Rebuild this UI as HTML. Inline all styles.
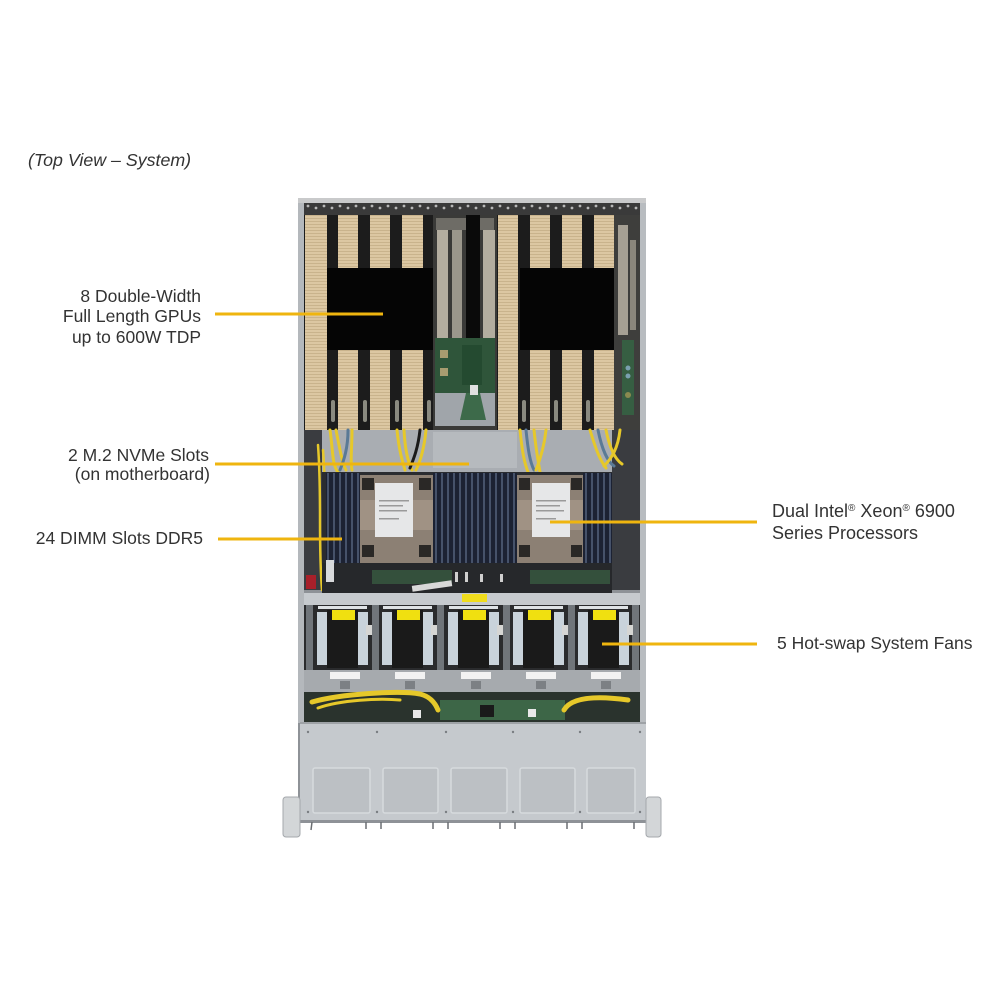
<!DOCTYPE html>
<html><head><meta charset="utf-8"><style>
html,body{margin:0;padding:0;background:#fff;}
svg{display:block;}
text{font-family:"Liberation Sans",Arial,sans-serif;fill:#333;font-size:17.5px;}
</style></head><body>
<svg width="1000" height="1000" viewBox="0 0 1000 1000" xmlns="http://www.w3.org/2000/svg">
<defs>
<pattern id="fin" width="4" height="3" patternUnits="userSpaceOnUse">
<rect width="4" height="3" fill="#dcc7a2"/><rect y="2" width="4" height="1" fill="#c9b38c"/>
</pattern>
<pattern id="dimm" width="6" height="10" patternUnits="userSpaceOnUse">
<rect width="6" height="10" fill="#1c2233"/><rect x="3" width="2" height="10" fill="#46526a"/>
</pattern>
</defs>

<!-- labels -->
<text x="28" y="166" font-style="italic" style="font-size:17.8px">(Top View – System)</text>
<text x="201" y="302" text-anchor="end">8 Double-Width</text>
<text x="201" y="322" text-anchor="end">Full Length GPUs</text>
<text x="201" y="343" text-anchor="end">up to 600W TDP</text>
<text x="209" y="461" text-anchor="end">2 M.2 NVMe Slots</text>
<text x="210" y="480" text-anchor="end">(on motherboard)</text>
<text x="203" y="544" text-anchor="end">24 DIMM Slots DDR5</text>
<text x="772" y="517" style="font-size:18px">Dual Intel<tspan dy="-6" style="font-size:10px">®</tspan><tspan dy="6"> Xeon</tspan><tspan dy="-6" style="font-size:10px">®</tspan><tspan dy="6"> 6900</tspan></text>
<text x="772" y="539" style="font-size:18px">Series Processors</text>
<text x="777" y="649">5 Hot-swap System Fans</text>

<!-- chassis body -->
<rect x="298" y="198" width="348" height="625" fill="#8e9297"/>
<rect x="298" y="198" width="348" height="5" fill="#c9cacb"/>
<rect x="304" y="203" width="336" height="230" fill="#1c1c1c"/>
<rect x="298" y="203" width="6" height="520" fill="#b4b8bc"/>
<rect x="640" y="203" width="6" height="520" fill="#b8bcc0"/>
<!-- top connector row -->
<rect x="304" y="203" width="336" height="12" fill="#3a3a3a"/>
<g fill="#b8b8b8">
<circle cx="308" cy="206" r="1.4"/><circle cx="316" cy="208" r="1.4"/><circle cx="324" cy="206" r="1.4"/><circle cx="332" cy="208" r="1.4"/><circle cx="340" cy="206" r="1.4"/><circle cx="348" cy="208" r="1.4"/><circle cx="356" cy="206" r="1.4"/><circle cx="364" cy="208" r="1.4"/><circle cx="372" cy="206" r="1.4"/><circle cx="380" cy="208" r="1.4"/><circle cx="388" cy="206" r="1.4"/><circle cx="396" cy="208" r="1.4"/><circle cx="404" cy="206" r="1.4"/><circle cx="412" cy="208" r="1.4"/><circle cx="420" cy="206" r="1.4"/><circle cx="428" cy="208" r="1.4"/><circle cx="436" cy="206" r="1.4"/><circle cx="444" cy="208" r="1.4"/><circle cx="452" cy="206" r="1.4"/><circle cx="460" cy="208" r="1.4"/><circle cx="468" cy="206" r="1.4"/><circle cx="476" cy="208" r="1.4"/><circle cx="484" cy="206" r="1.4"/><circle cx="492" cy="208" r="1.4"/><circle cx="500" cy="206" r="1.4"/><circle cx="508" cy="208" r="1.4"/><circle cx="516" cy="206" r="1.4"/><circle cx="524" cy="208" r="1.4"/><circle cx="532" cy="206" r="1.4"/><circle cx="540" cy="208" r="1.4"/><circle cx="548" cy="206" r="1.4"/><circle cx="556" cy="208" r="1.4"/><circle cx="564" cy="206" r="1.4"/><circle cx="572" cy="208" r="1.4"/><circle cx="580" cy="206" r="1.4"/><circle cx="588" cy="208" r="1.4"/><circle cx="596" cy="206" r="1.4"/><circle cx="604" cy="208" r="1.4"/><circle cx="612" cy="206" r="1.4"/><circle cx="620" cy="208" r="1.4"/><circle cx="628" cy="206" r="1.4"/><circle cx="636" cy="208" r="1.4"/>
</g>

<!-- GPUs left group -->
<rect x="305" y="215" width="22" height="215" fill="url(#fin)"/>
<rect x="338" y="215" width="20" height="53" fill="url(#fin)"/>
<rect x="370" y="215" width="20" height="53" fill="url(#fin)"/>
<rect x="402" y="215" width="21" height="53" fill="url(#fin)"/>
<rect x="338" y="350" width="20" height="80" fill="url(#fin)"/>
<rect x="370" y="350" width="20" height="80" fill="url(#fin)"/>
<rect x="402" y="350" width="21" height="80" fill="url(#fin)"/>
<rect x="327" y="268" width="106" height="82" fill="#050505"/>
<!-- GPUs right group -->
<rect x="498" y="215" width="20" height="215" fill="url(#fin)"/>
<rect x="530" y="215" width="20" height="53" fill="url(#fin)"/>
<rect x="562" y="215" width="20" height="53" fill="url(#fin)"/>
<rect x="594" y="215" width="20" height="53" fill="url(#fin)"/>
<rect x="530" y="350" width="20" height="80" fill="url(#fin)"/>
<rect x="562" y="350" width="20" height="80" fill="url(#fin)"/>
<rect x="594" y="350" width="20" height="80" fill="url(#fin)"/>
<rect x="520" y="268" width="113" height="82" fill="#050505"/>
<!-- small logos -->
<g fill="#8a8a80">
<rect x="331" y="400" width="4" height="22" rx="2"/><rect x="363" y="400" width="4" height="22" rx="2"/><rect x="395" y="400" width="4" height="22" rx="2"/><rect x="427" y="400" width="4" height="22" rx="2"/>
<rect x="522" y="400" width="4" height="22" rx="2"/><rect x="554" y="400" width="4" height="22" rx="2"/><rect x="586" y="400" width="4" height="22" rx="2"/><rect x="618" y="400" width="4" height="22" rx="2"/>
</g>

<!-- center risers -->
<rect x="433" y="215" width="64" height="215" fill="#3a3a38"/>
<rect x="436" y="218" width="58" height="12" fill="#6e6c66"/>
<rect x="437" y="230" width="11" height="108" fill="#b3ad9f"/>
<rect x="452" y="230" width="10" height="108" fill="#9b978c"/>
<rect x="466" y="215" width="14" height="145" fill="#0a0a0a"/>
<rect x="483" y="230" width="12" height="108" fill="#b3ad9f"/>
<rect x="435" y="338" width="60" height="55" fill="#2f553a"/>
<rect x="440" y="350" width="8" height="8" fill="#a89c70"/>
<rect x="440" y="368" width="8" height="8" fill="#a89c70"/>
<rect x="462" y="345" width="20" height="40" fill="#244a30"/>
<rect x="435" y="393" width="60" height="33" fill="#a0a5aa"/>
<polygon points="466,393 480,393 486,420 460,420" fill="#3d6a4a"/>
<rect x="470" y="385" width="8" height="10" fill="#e0e0e0"/>
<!-- right riser -->
<rect x="614" y="215" width="26" height="215" fill="#3e3e3c"/>
<rect x="618" y="225" width="10" height="110" fill="#a6a094"/>
<rect x="630" y="240" width="6" height="90" fill="#8a867c"/>
<rect x="622" y="340" width="12" height="75" fill="#365e42"/>
<circle cx="628" cy="368" r="2.5" fill="#7aa0b0"/><circle cx="628" cy="376" r="2.5" fill="#7aa0b0"/><circle cx="628" cy="395" r="3" fill="#8a8a50"/>

<!-- shroud area below GPUs -->
<rect x="304" y="430" width="336" height="44" fill="#a9adb2"/>
<rect x="304" y="430" width="18" height="160" fill="#3a3c40"/>
<rect x="612" y="430" width="28" height="160" fill="#3a3c40"/>
<rect x="433" y="432" width="84" height="36" fill="#b6babe"/>
<!-- cable bundles -->
<g fill="none" stroke-linecap="round">
<path d="M330,430 C333,450 332,465 338,472" stroke="#e6c82a" stroke-width="3"/>
<path d="M336,430 C340,450 342,462 346,470" stroke="#e6c82a" stroke-width="3"/>
<path d="M348,430 C348,448 344,460 340,470" stroke="#5a7a96" stroke-width="3"/>
<path d="M352,430 C352,450 350,460 352,470" stroke="#e6c82a" stroke-width="3"/>
<path d="M397,430 C399,450 402,460 405,470" stroke="#e6c82a" stroke-width="3"/>
<path d="M404,430 C405,450 408,462 412,470" stroke="#e6c82a" stroke-width="3"/>
<path d="M420,430 C418,448 414,458 410,468" stroke="#1a1a1a" stroke-width="3"/>
<path d="M426,430 C424,450 420,462 416,470" stroke="#e6c82a" stroke-width="3"/>
<path d="M520,430 C522,450 524,462 528,472" stroke="#e6c82a" stroke-width="3"/>
<path d="M526,430 C528,450 530,462 534,470" stroke="#5a7a96" stroke-width="3"/>
<path d="M534,430 C536,450 538,460 540,472" stroke="#e6c82a" stroke-width="3"/>
<path d="M546,430 C544,448 540,460 536,470" stroke="#e6c82a" stroke-width="3"/>
<path d="M590,430 C596,450 600,460 606,468" stroke="#e6c82a" stroke-width="3"/>
<path d="M598,430 C602,450 608,462 614,466" stroke="#5a7a96" stroke-width="3"/>
<path d="M606,430 C610,450 616,460 622,464" stroke="#e6c82a" stroke-width="3"/>
<path d="M620,430 C618,448 612,458 604,466" stroke="#e6c82a" stroke-width="3"/>
<path d="M318,445 C322,500 318,540 322,590" stroke="#e6c82a" stroke-width="2.5"/>
<path d="M323,450 C327,500 324,545 328,590" stroke="#e6c82a" stroke-width="2.5"/>
</g>

<!-- motherboard -->
<rect x="322" y="472" width="290" height="120" fill="#2a2c30"/>
<rect x="326" y="473" width="34" height="92" fill="url(#dimm)"/>
<rect x="433" y="473" width="84" height="92" fill="url(#dimm)"/>
<rect x="583" y="473" width="29" height="92" fill="url(#dimm)"/>
<!-- heatsinks -->
<rect x="360" y="475" width="73" height="88" fill="#8c8074"/>
<rect x="360" y="500" width="73" height="30" fill="#a09284"/>
<rect x="362" y="478" width="12" height="12" fill="#2a2826"/><rect x="419" y="478" width="12" height="12" fill="#2a2826"/>
<rect x="362" y="545" width="12" height="12" fill="#2a2826"/><rect x="419" y="545" width="12" height="12" fill="#2a2826"/>
<rect x="375" y="483" width="38" height="54" fill="#e6e7e8"/>
<g fill="#9a9a9a"><rect x="379" y="500" width="30" height="1.5"/><rect x="379" y="505" width="24" height="1.5"/><rect x="379" y="510" width="28" height="1.5"/><rect x="379" y="518" width="20" height="1.5"/></g>
<rect x="517" y="475" width="66" height="88" fill="#8c8074"/>
<rect x="517" y="500" width="66" height="30" fill="#a09284"/>
<rect x="519" y="478" width="11" height="12" fill="#2a2826"/><rect x="571" y="478" width="11" height="12" fill="#2a2826"/>
<rect x="519" y="545" width="11" height="12" fill="#2a2826"/><rect x="571" y="545" width="11" height="12" fill="#2a2826"/>
<rect x="532" y="483" width="38" height="54" fill="#e6e7e8"/>
<g fill="#9a9a9a"><rect x="536" y="500" width="30" height="1.5"/><rect x="536" y="505" width="24" height="1.5"/><rect x="536" y="510" width="28" height="1.5"/><rect x="536" y="518" width="20" height="1.5"/></g>
<!-- board bottom strip -->
<rect x="322" y="563" width="290" height="30" fill="#26282b"/>
<rect x="372" y="570" width="80" height="14" fill="#34503c"/>
<rect x="530" y="570" width="80" height="14" fill="#34503c"/>
<rect x="412" y="583" width="40" height="6" fill="#d8d8d8" transform="rotate(-8 432 586)"/>
<g fill="#cfcfcf"><rect x="455" y="572" width="3" height="10"/><rect x="465" y="572" width="3" height="10"/><rect x="480" y="574" width="3" height="8"/><rect x="500" y="574" width="3" height="8"/></g>
<rect x="306" y="575" width="10" height="14" fill="#a8202a"/>
<rect x="326" y="560" width="8" height="22" fill="#d8dadc"/>

<!-- fan bay -->
<rect x="304" y="593" width="336" height="12" fill="#c6cace"/>
<rect x="462" y="594" width="25" height="8" fill="#f0dc1c"/>
<rect x="304" y="605" width="336" height="65" fill="#2a2b2d"/>
<g>
<rect x="317" y="612" width="10" height="53" fill="#c9d3db"/><rect x="358" y="612" width="10" height="53" fill="#c9d3db"/>
<rect x="327" y="610" width="31" height="58" fill="#1a1a1a"/><rect x="318" y="606" width="49" height="3" fill="#dfe3e6"/>
<rect x="332" y="610" width="23" height="10" fill="#f0e010"/>
<rect x="372" y="605" width="7" height="65" fill="#70757a"/>
<rect x="382" y="612" width="10" height="53" fill="#c9d3db"/><rect x="423" y="612" width="10" height="53" fill="#c9d3db"/>
<rect x="392" y="610" width="31" height="58" fill="#1a1a1a"/><rect x="383" y="606" width="49" height="3" fill="#dfe3e6"/>
<rect x="397" y="610" width="23" height="10" fill="#f0e010"/>
<rect x="437" y="605" width="7" height="65" fill="#70757a"/>
<rect x="448" y="612" width="10" height="53" fill="#c9d3db"/><rect x="489" y="612" width="10" height="53" fill="#c9d3db"/>
<rect x="458" y="610" width="31" height="58" fill="#1a1a1a"/><rect x="449" y="606" width="49" height="3" fill="#dfe3e6"/>
<rect x="463" y="610" width="23" height="10" fill="#f0e010"/>
<rect x="503" y="605" width="7" height="65" fill="#70757a"/>
<rect x="513" y="612" width="10" height="53" fill="#c9d3db"/><rect x="554" y="612" width="10" height="53" fill="#c9d3db"/>
<rect x="523" y="610" width="31" height="58" fill="#1a1a1a"/><rect x="514" y="606" width="49" height="3" fill="#dfe3e6"/>
<rect x="528" y="610" width="23" height="10" fill="#f0e010"/>
<rect x="568" y="605" width="7" height="65" fill="#70757a"/>
<rect x="578" y="612" width="10" height="53" fill="#c9d3db"/><rect x="619" y="612" width="10" height="53" fill="#c9d3db"/>
<rect x="588" y="610" width="31" height="58" fill="#1a1a1a"/><rect x="579" y="606" width="49" height="3" fill="#dfe3e6"/>
<rect x="593" y="610" width="23" height="10" fill="#f0e010"/>
<rect x="632" y="605" width="7" height="65" fill="#70757a"/>
<rect x="306" y="605" width="7" height="65" fill="#70757a"/>
</g>
<g fill="#d6d6d4"><rect x="366" y="625" width="6" height="10"/><rect x="431" y="625" width="6" height="10"/><rect x="497" y="625" width="6" height="10"/><rect x="562" y="625" width="6" height="10"/><rect x="627" y="625" width="6" height="10"/></g>
<!-- strip under fans -->
<rect x="304" y="670" width="336" height="22" fill="#a6aaae"/>
<g fill="#f2f2f2"><rect x="330" y="672" width="30" height="7"/><rect x="395" y="672" width="30" height="7"/><rect x="461" y="672" width="30" height="7"/><rect x="526" y="672" width="30" height="7"/><rect x="591" y="672" width="30" height="7"/></g>
<g fill="#7c8084"><rect x="340" y="681" width="10" height="8"/><rect x="405" y="681" width="10" height="8"/><rect x="471" y="681" width="10" height="8"/><rect x="536" y="681" width="10" height="8"/><rect x="601" y="681" width="10" height="8"/></g>
<!-- backplane -->
<rect x="304" y="692" width="336" height="30" fill="#2a332d"/>
<rect x="440" y="700" width="125" height="20" fill="#3d6647"/>
<rect x="480" y="705" width="14" height="12" fill="#1a1a1a"/>
<rect x="413" y="710" width="8" height="8" fill="#e8e8e8"/>
<rect x="528" y="709" width="8" height="8" fill="#e8e8e8"/>
<g fill="none" stroke-linecap="round">
<path d="M312,702 C340,694 400,690 420,694 C432,697 436,705 438,710" stroke="#e6c82a" stroke-width="5"/>
<path d="M318,708 C340,700 380,698 400,700" stroke="#e6c82a" stroke-width="3"/>
<path d="M564,710 C572,696 600,696 628,700" stroke="#e6c82a" stroke-width="5"/>
</g>
<!-- front panel -->
<rect x="300" y="722" width="346" height="98" fill="#c5c9cd"/>
<rect x="300" y="722" width="346" height="2" fill="#9ea2a6"/>
<g fill="#bcc0c4" stroke="#d6dadd" stroke-width="1.5">
<rect x="313" y="768" width="57" height="45" rx="2"/>
<rect x="383" y="768" width="55" height="45" rx="2"/>
<rect x="451" y="768" width="56" height="45" rx="2"/>
<rect x="520" y="768" width="55" height="45" rx="2"/>
<rect x="587" y="768" width="48" height="45" rx="2"/>
</g>
<g fill="#7a7e82"><circle cx="308" cy="732" r="1.2"/><circle cx="377" cy="732" r="1.2"/><circle cx="446" cy="732" r="1.2"/><circle cx="513" cy="732" r="1.2"/><circle cx="580" cy="732" r="1.2"/><circle cx="640" cy="732" r="1.2"/>
<circle cx="308" cy="812" r="1.2"/><circle cx="377" cy="812" r="1.2"/><circle cx="446" cy="812" r="1.2"/><circle cx="513" cy="812" r="1.2"/><circle cx="580" cy="812" r="1.2"/><circle cx="640" cy="812" r="1.2"/></g>
<!-- flanges -->
<rect x="283" y="797" width="17" height="40" rx="3" fill="#d3d6d8" stroke="#a4a8ac"/>
<rect x="646" y="797" width="15" height="40" rx="3" fill="#d3d6d8" stroke="#a4a8ac"/>
<!-- pins -->
<g stroke="#6a6e72" stroke-width="1.5">
<line x1="312" y1="822" x2="311" y2="830"/><line x1="366" y1="822" x2="366" y2="829"/><line x1="381" y1="822" x2="381" y2="829"/><line x1="433" y1="822" x2="433" y2="829"/><line x1="448" y1="822" x2="448" y2="829"/><line x1="500" y1="822" x2="500" y2="829"/><line x1="515" y1="822" x2="515" y2="829"/><line x1="567" y1="822" x2="567" y2="829"/><line x1="582" y1="822" x2="582" y2="829"/><line x1="634" y1="822" x2="634" y2="829"/>
</g>

<!-- callout lines -->
<g stroke="#efb50f" stroke-width="3">
<line x1="215" y1="314" x2="383" y2="314"/>
<line x1="215" y1="464" x2="469" y2="464"/>
<line x1="218" y1="539" x2="342" y2="539"/>
<line x1="550" y1="522" x2="757" y2="522"/>
<line x1="602" y1="644" x2="757" y2="644"/>
</g>
</svg>
</body></html>
